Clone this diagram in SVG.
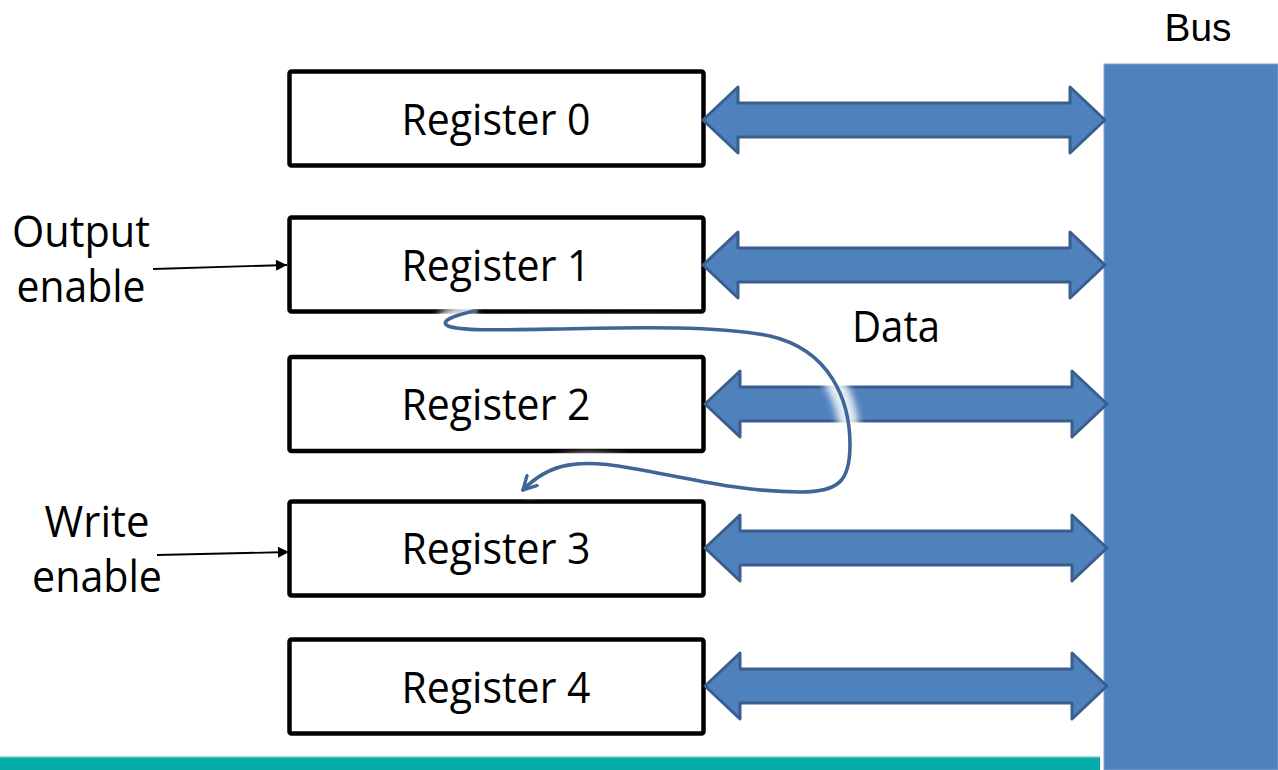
<svg xmlns="http://www.w3.org/2000/svg" width="1278" height="770" viewBox="0 0 1278 770">
  <style>
    .reg rect { fill: #ffffff; stroke: #000000; stroke-width: 4.5; }
    .lbl { font-family: "Open Sans", "Liberation Sans", sans-serif; font-size: 44px; fill: #000000; }
    .bus-link { fill: #4f81bd; stroke: #3a5f8f; stroke-width: 3; stroke-linejoin: round; }
    .ctl { stroke: #000000; stroke-width: 1.8; fill: none; }
    .flow { fill: none; stroke: #3f6697; stroke-width: 3.6; stroke-linecap: round; }
    .halo { fill: none; stroke: #ffffff; stroke-width: 20; stroke-opacity: 0.85; }
  </style>
  <defs>
    <!-- double-headed block arrow, 402 wide, centred on y=0 -->
    <path id="dbl" d="M0,0 L35,-33 L35,-17 L367,-17 L367,-33 L402,0 L367,33 L367,17 L35,17 L35,33 Z"/>
    <marker id="tri" viewBox="0 0 10 10" refX="10" refY="5" markerWidth="13" markerHeight="11" markerUnits="userSpaceOnUse" orient="auto">
      <path d="M0,0 L10,5 L0,10 Z" fill="#000000"/>
    </marker>
    <marker id="vee" viewBox="0 0 14 14" refX="12" refY="7" markerWidth="17" markerHeight="17" markerUnits="userSpaceOnUse" orient="auto">
      <path d="M1,1 L12,7 L1,13" fill="none" stroke="#3f6697" stroke-width="2.8" stroke-linecap="round" stroke-linejoin="round"/>
    </marker>
    <filter id="soft" x="-20%" y="-20%" width="140%" height="140%">
      <feGaussianBlur stdDeviation="3.5"/>
    </filter>
  </defs>

  <!-- bus bar -->
  <g id="bus">
    <rect x="1104" y="64" width="174" height="706" fill="#4f81bd" stroke="#7fa2cf" stroke-width="1"/>
    <text x="1198" y="41" text-anchor="middle" font-family="'Liberation Sans', Arial, sans-serif" font-size="38" fill="#000000" textLength="67" lengthAdjust="spacingAndGlyphs">Bus</text>
  </g>

  <!-- footer band -->
  <g id="footer">
    <rect x="0" y="756" width="1100" height="14" fill="#05ada6"/>
    <rect x="0" y="756" width="1100" height="1.5" fill="#9fdcd8"/>
  </g>

  <!-- registers -->
  <g id="reg0" class="reg">
    <rect x="289.5" y="71.5" width="414" height="94" rx="2"/>
    <text class="lbl" x="496" y="135" text-anchor="middle" textLength="189" lengthAdjust="spacingAndGlyphs">Register 0</text>
  </g>
  <g id="reg1" class="reg">
    <rect x="289.5" y="217.5" width="414" height="94" rx="2"/>
    <text class="lbl" x="496" y="281" text-anchor="middle" textLength="189" lengthAdjust="spacingAndGlyphs">Register 1</text>
  </g>
  <g id="reg2" class="reg">
    <rect x="289.5" y="357" width="414" height="94" rx="2"/>
    <text class="lbl" x="496" y="420" text-anchor="middle" textLength="189" lengthAdjust="spacingAndGlyphs">Register 2</text>
  </g>
  <g id="reg3" class="reg">
    <rect x="289.5" y="501.5" width="414" height="94" rx="2"/>
    <text class="lbl" x="496" y="564" text-anchor="middle" textLength="189" lengthAdjust="spacingAndGlyphs">Register 3</text>
  </g>
  <g id="reg4" class="reg">
    <rect x="289.5" y="639.5" width="414" height="94" rx="2"/>
    <text class="lbl" x="496" y="703" text-anchor="middle" textLength="189" lengthAdjust="spacingAndGlyphs">Register 4</text>
  </g>

  <!-- control labels -->
  <g id="output-enable">
    <text class="lbl" x="81" y="247" text-anchor="middle" textLength="138" lengthAdjust="spacingAndGlyphs">Output</text>
    <text class="lbl" x="81" y="302" text-anchor="middle" textLength="129" lengthAdjust="spacingAndGlyphs">enable</text>
  </g>
  <g id="write-enable">
    <text class="lbl" x="97" y="537" text-anchor="middle" textLength="105" lengthAdjust="spacingAndGlyphs">Write</text>
    <text class="lbl" x="97" y="592" text-anchor="middle" textLength="130" lengthAdjust="spacingAndGlyphs">enable</text>
  </g>
  <g id="data-label">
    <text class="lbl" x="896" y="342" text-anchor="middle" textLength="88" lengthAdjust="spacingAndGlyphs">Data</text>
  </g>

  <!-- connectors -->
  <g id="connectors">
    <use href="#dbl" class="bus-link" x="703" y="120"/>
    <use href="#dbl" class="bus-link" x="703" y="265"/>
    <use href="#dbl" class="bus-link" x="705" y="404"/>
    <use href="#dbl" class="bus-link" x="705" y="548"/>
    <use href="#dbl" class="bus-link" x="705" y="686"/>

    <line class="ctl" x1="153" y1="269" x2="287" y2="265" marker-end="url(#tri)"/>
    <line class="ctl" x1="157" y1="555" x2="289" y2="552" marker-end="url(#tri)"/>

    <!-- register-to-register transfer path, with a soft white glow underneath -->
    <path class="halo" filter="url(#soft)" d="M475,311 C450,316 440,322 448,326 C460,331 500,330 560,329 C640,327 720,326 770,336 C830,350 850,400 850,445 C850,480 840,492 800,492 C740,492 690,478 630,468 C580,459 550,462 523,490"/>
    <path class="flow" marker-end="url(#vee)" d="M475,311 C450,316 440,322 448,326 C460,331 500,330 560,329 C640,327 720,326 770,336 C830,350 850,400 850,445 C850,480 840,492 800,492 C740,492 690,478 630,468 C580,459 550,462 523,490"/>
  </g>
</svg>
